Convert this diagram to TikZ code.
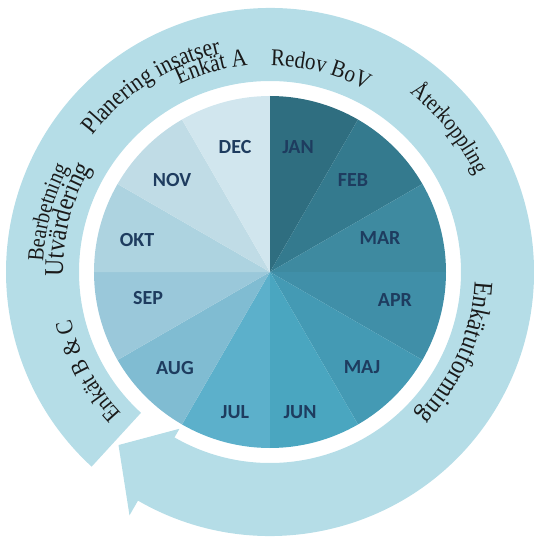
\documentclass[tikz,border=0pt]{standalone}
\usepackage{fontspec}
\setmainfont{Liberation Serif}
\newfontfamily\ringserif[FakeStretch=0.87]{Liberation Serif}
\newfontfamily\monthfont{Carlito}
\usepackage{tikz}
\usetikzlibrary{decorations.text}

\definecolor{ringblue}{HTML}{B5DDE7}
\definecolor{monthtext}{HTML}{1E3C5F}
\definecolor{ringtext}{HTML}{1A1A1A}
\definecolor{janblue}{HTML}{2F6E80}
\definecolor{febblue}{HTML}{347A8E}
\definecolor{marblue}{HTML}{3E8AA0}
\definecolor{aprblue}{HTML}{408FA8}
\definecolor{majblue}{HTML}{449AB4}
\definecolor{junblue}{HTML}{4AA6C0}
\definecolor{julblue}{HTML}{5CB0CB}
\definecolor{augblue}{HTML}{80BCD2}
\definecolor{sepblue}{HTML}{9AC8DA}
\definecolor{oktblue}{HTML}{ADD3E0}
\definecolor{novblue}{HTML}{C0DCE6}
\definecolor{decblue}{HTML}{D1E6EE}

\newcommand{\ringfont}[1]{\ringserif\fontsize{#1}{#1}\selectfont}

\tikzset{
    month/.style={font=\monthfont\bfseries\fontsize{20}{20}\selectfont, text=monthtext},
    ringlabel/.style={decorate, decoration={text along path, text align=center, text color=ringtext, text={#1}}}
}

\begin{document}
\begin{tikzpicture}[x=1pt, y=1pt]
        \useasboundingbox (-270, -266) rectangle (264, 272);

        % ring arrow
        \fill[ringblue] (227.5:191) arc[start angle=227.5, end angle=-120, radius=191]
            -- (-120:181) -- (-131.2:230) -- (-120:281) -- (-120:264)
            arc[start angle=-120, end angle=227.5, radius=264] -- cycle;

        % months
        \fill[janblue] (0, 0) -- (90:176) arc[start angle=90, end angle=60, radius=176] -- cycle;
        \fill[febblue] (0, 0) -- (60:176) arc[start angle=60, end angle=30, radius=176] -- cycle;
        \fill[marblue] (0, 0) -- (30:176) arc[start angle=30, end angle=0, radius=176] -- cycle;
        \fill[aprblue] (0, 0) -- (0:176) arc[start angle=0, end angle=-30, radius=176] -- cycle;
        \fill[majblue] (0, 0) -- (-30:176) arc[start angle=-30, end angle=-60, radius=176] -- cycle;
        \fill[junblue] (0, 0) -- (-60:176) arc[start angle=-60, end angle=-90, radius=176] -- cycle;
        \fill[julblue] (0, 0) -- (-90:176) arc[start angle=-90, end angle=-120, radius=176] -- cycle;
        \fill[augblue] (0, 0) -- (-120:176) arc[start angle=-120, end angle=-150, radius=176] -- cycle;
        \fill[sepblue] (0, 0) -- (-150:176) arc[start angle=-150, end angle=-180, radius=176] -- cycle;
        \fill[oktblue] (0, 0) -- (180:176) arc[start angle=180, end angle=150, radius=176] -- cycle;
        \fill[novblue] (0, 0) -- (150:176) arc[start angle=150, end angle=120, radius=176] -- cycle;
        \fill[decblue] (0, 0) -- (120:176) arc[start angle=120, end angle=90, radius=176] -- cycle;

        \node[month] (jan) at (28, 125) {JAN};
        \node[month] (feb) at (83, 92) {FEB};
        \node[month] (mar) at (110, 34) {MAR};
        \node[month] (apr) at (125, -28) {APR};
        \node[month] (maj) at (92, -95) {MAJ};
        \node[month] (jun) at (30, -140) {JUN};
        \node[month] (jul) at (-35, -140) {JUL};
        \node[month] (aug) at (-95, -96) {AUG};
        \node[month] (sep) at (-122, -26) {SEP};
        \node[month] (okt) at (-133, 32) {OKT};
        \node[month] (nov) at (-98, 92) {NOV};
        \node[month] (dec) at (-35, 125) {DEC};

        % activities on the ring
        \path[ringlabel={|\ringfont{25}|Planering insatser}] (167.5:224) arc[start angle=167.5, end angle=77.5, radius=224];
        \path[ringlabel={|\ringfont{25}|Enkät A}] (151:208) arc[start angle=151, end angle=61, radius=208];
        \path[ringlabel={|\ringfont{24}|Redov BoV}] (121:206) arc[start angle=121, end angle=31, radius=206];
        \path[ringlabel={|\ringfont{23}|Återkoppling}] (83.6:227) arc[start angle=83.6, end angle=-6.4, radius=227];
        \path[ringlabel={|\ringfont{27}|Enkätutforming}] (21.6:205) arc[start angle=21.6, end angle=-68.4, radius=205];
        \path[ringlabel={|\ringfont{23}|Bearbetning}] (210:227) arc[start angle=210, end angle=120, radius=227];
        \path[ringlabel={|\ringfont{27}|Utvärdering}] (210.5:207) arc[start angle=210.5, end angle=120.5, radius=207];
        \path[ringlabel={|\ringfont{24}|Enkät B {\&} C}] (253.5:205) arc[start angle=253.5, end angle=163.5, radius=205];

        % \draw[red] (0, 0) circle (176);
    \end{tikzpicture}
\end{document}
